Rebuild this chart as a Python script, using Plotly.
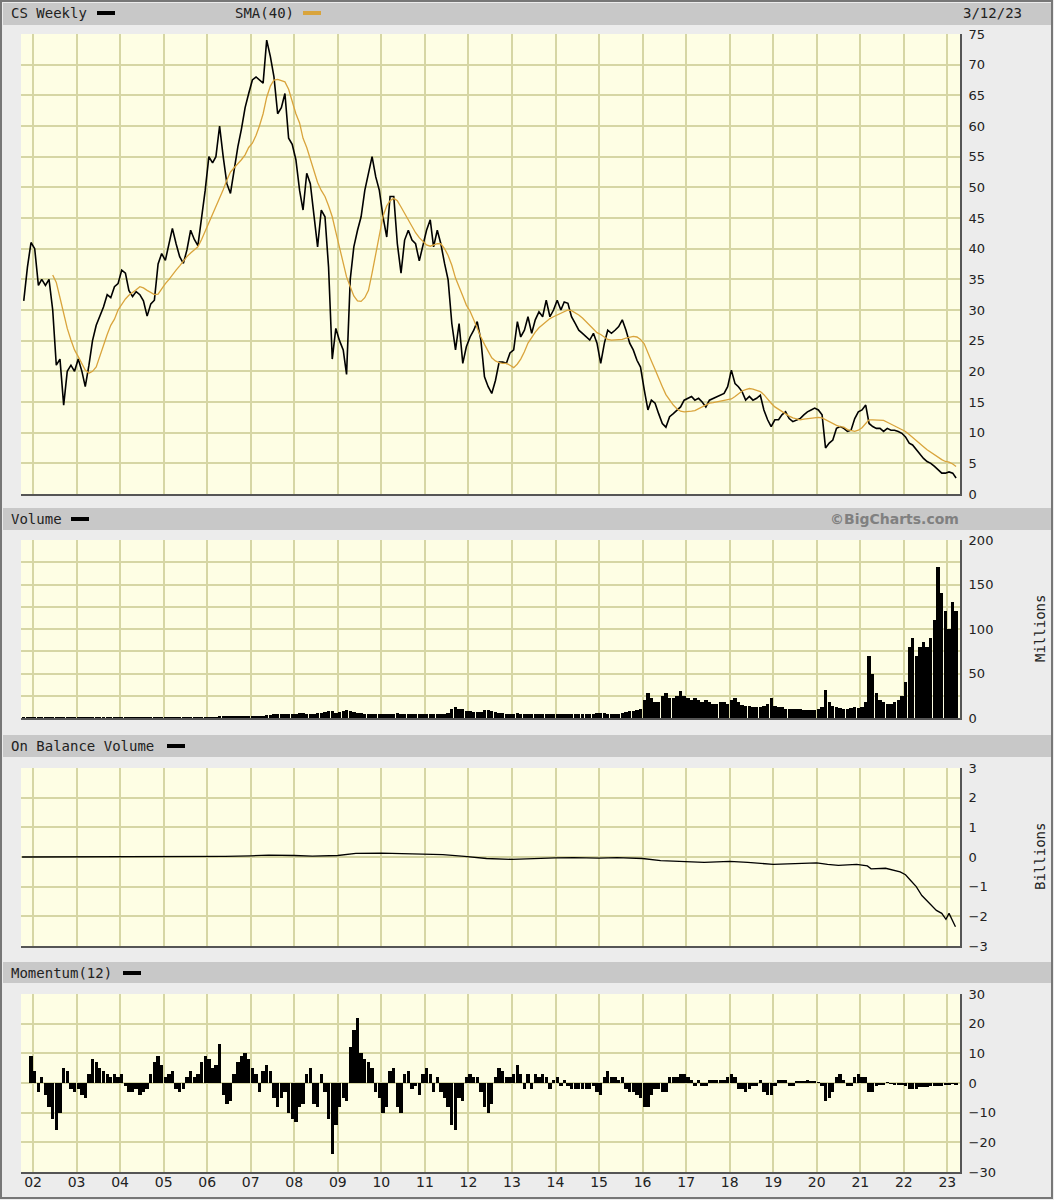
import plotly.graph_objects as go
import pandas as pd

W, H = 1054, 1200

# ---------------- data (monthly readings) ----------------
# CS weekly close, sampled monthly from Oct 2001
price = [
    31.5, 37, 41,
    40, 34, 35, 34, 35, 30, 21, 22, 14.5, 20, 21, 20,
    22, 20, 17.5, 21, 25, 27.5, 29, 30.5, 32.5, 32, 33.8, 34.3,
    36.5, 36, 33.2, 32.2, 33, 32.5, 31.5, 29, 31, 31.6, 37.5, 39.2,
    38.1, 40.8, 43.3, 40.8, 38.7, 37.6, 39.8, 43, 41.5, 40.5, 45, 49.5,
    55, 54, 55, 60, 55, 50.6, 49, 52.8, 56.6, 59.5, 63, 65.3,
    67.5, 68, 67.5, 67, 74, 71.3, 68, 62, 63, 65.3, 58, 57,
    54.5, 49.5, 46.3, 52.3, 50.6, 45, 40.3, 46.3, 45.2, 37, 22, 27,
    25, 23.5, 19.5, 35, 40.3, 43, 45.2, 49.5, 52.3, 55, 51.7, 49.5,
    45.2, 41.9, 48.5, 48.5, 40.8, 36, 41.4, 43, 41.4, 40.8, 38, 40.3,
    43, 44.7, 40.3, 43, 40.8, 37.6, 34.9, 27.8, 23.5, 27.8, 21.3, 24,
    25.6, 26.7, 28.1, 25.1, 19.1, 17.5, 16.4, 18.5, 21.5, 21.5, 21.3, 23,
    23.5, 28.1, 25.6, 26.7, 28.9, 26.2, 28.4, 29.7, 28.9, 31.6, 28.9, 30,
    31.6, 30, 31.3, 31.1, 28.9, 27.8, 26.7, 26.2, 25.6, 25.1, 26.2, 24.6,
    21.3, 24.6, 26.7, 26.2, 26.7, 27.3, 28.4, 26.7, 24.6, 23.5, 21.8, 20.7,
    17, 13.7, 15.3, 14.8, 13.1, 11.5, 10.9, 12.6, 13.1, 13.7, 14.2, 15.3,
    15.6, 15.9, 15.3, 15.6, 15, 14.2, 15.3, 15.6, 15.9, 16.1, 16.4, 17.5,
    20.2, 18, 17.5, 16.7, 15.3, 15.9, 15.3, 15.6, 16.1, 13.7, 12.1, 11,
    12.1, 12.1, 12.9, 13.4, 12.3, 11.8, 12.1, 12.3, 12.9, 13.4, 13.7, 14,
    13.7, 12.9, 7.5, 8.3, 8.8, 10.7, 11, 10.7, 10.2, 10.4, 12.3, 13.4,
    13.7, 14.5, 11.5, 11, 10.7, 10.7, 10.2, 10.7, 10.4, 10.4, 10.2, 9.9,
    9.3, 8.3, 8, 7.2, 6.4, 5.8, 5.3, 5, 4.5, 3.9, 3.4, 3.4,
    3.6, 3.4, 2.6,
]

# SMA(40), sampled monthly from Jun 2002
sma40 = [
    35.7, 34.5, 32, 29.5, 27, 25.1, 23.5,
    22.4, 21.2, 20.2, 19.7, 20, 20.7, 22.5, 24.5, 26, 27.5, 28.5, 30,
    31, 31.8, 32.4, 32.8, 33.3, 33.8, 33.6, 33.2, 32.8, 32.5, 32.6, 33.5,
    34.3, 35, 35.8, 36.5, 37.2, 38, 38.7, 39.3, 39.8, 40.3, 41.5, 42.8,
    44.2, 45.5, 46.8, 48, 49.6, 51.2, 52.5, 53.2, 53.8, 54.5, 55.3, 56.5,
    57.2, 58.5, 60, 62, 64.7, 66.5, 67.5, 67.6, 67.4, 67.2, 66, 63.8,
    62, 60.5, 58, 56.5, 54.5, 52.5, 50.8, 49.5, 48.5, 47, 45.2, 42.7,
    40.3, 37.5, 35.4, 33.8, 32.3, 31.5, 31.4, 32, 33.2, 36, 39, 42.3,
    45.3, 47, 47.8, 48.2, 47.8, 46.8, 45.8, 44.6, 43.5, 42.6, 41.8, 41.2,
    40.6, 40.4, 40.6, 40.8, 40.8, 40, 38.9, 37.3, 35.2, 33.6, 32.3, 30.8,
    29.8, 28.4, 27, 25.6, 24.4, 23.2, 22.2, 21.7, 21.4, 21.3, 21.3, 21,
    20.6, 21.2, 22, 23.2, 24.6, 25.5, 26.4, 27.1, 27.6, 28.2, 28.6, 28.9,
    29.2, 29.5, 29.8, 30, 29.9, 29.6, 29.2, 28.7, 28.1, 27.5, 26.8, 26.3,
    26, 25.5, 25.2, 25.1, 25.1, 25.1, 25.2, 25.4, 25.6, 25.7, 25.6, 25.2,
    24.5, 23.2, 21.7, 20.3, 18.8, 17.5, 16.2, 15.3, 14.5, 13.9, 13.5, 13.4,
    13.4, 13.5, 13.6, 13.9, 14.2, 14.5, 14.8, 14.9, 15, 15.1, 15.2, 15.3,
    15.5, 15.9, 16.4, 16.8, 17, 17.2, 17.1, 16.9, 16.7, 16.2, 15.4, 14.8,
    14.2, 13.8, 13.4, 13, 12.7, 12.4, 12.2, 12.1, 12.2, 12.3, 12.4, 12.5,
    12.5, 12.4, 12.1, 11.8, 11.4, 11.2, 11, 10.9, 10.5, 10.3, 10.2, 10.4,
    10.8, 11.5, 12.1, 12.1, 12.1, 12.1, 12, 11.7, 11.4, 11.2, 10.9, 10.6,
    10.2, 9.7, 9.2, 8.8, 8.2, 7.7, 7.2, 6.8, 6.3, 5.9, 5.6, 5.3,
    5.2, 4.9, 4.5,
]

# Volume (millions), monthly from Oct 2001
volume = [
    0.3, 0.3, 0.3,
    0.4, 0.4, 0.4, 0.4, 0.4, 0.5, 0.6, 0.5, 0.6, 0.6, 0.5, 0.5,
    0.5, 0.5, 0.6, 0.5, 0.5, 0.5, 0.5, 0.5, 0.5, 0.5, 0.5, 0.5,
    0.5, 0.5, 0.5, 0.5, 0.5, 0.5, 0.5, 0.5, 0.5, 0.5, 0.5, 0.5,
    0.6, 0.6, 0.6, 0.6, 0.6, 0.6, 0.6, 0.7, 0.7, 0.7, 0.8, 0.8,
    1.0, 1.0, 1.1, 1.2, 1.3, 1.3, 1.3, 1.4, 1.4, 1.5, 1.5, 1.5,
    2, 2, 2.5, 2.5, 3, 3, 4, 5, 4, 4, 5, 5,
    5, 6, 6, 5, 5, 5, 6, 6, 7, 8, 8, 6,
    7, 8, 9, 8, 7, 6, 6, 5, 5, 5, 5, 4,
    4, 4, 4, 5, 6, 5, 4, 4, 4, 4, 4, 4,
    4, 4, 5, 4, 4, 5, 6, 10, 12, 10, 10, 8,
    8, 7, 7, 7, 9, 9, 8, 7, 6, 6, 5, 5,
    5, 6, 5, 5, 5, 5, 5, 4, 4, 4, 4, 4,
    4, 4, 4, 4, 4, 4, 4, 4, 5, 5, 5, 6,
    6, 6, 5, 5, 5, 5, 6, 7, 8, 8, 9, 10,
    20, 28, 22, 18, 18, 25, 28, 22, 22, 25, 30, 25,
    22, 20, 22, 20, 18, 20, 18, 16, 16, 18, 18, 16,
    20, 22, 18, 15, 14, 14, 12, 12, 12, 14, 16, 22,
    14, 12, 12, 10, 10, 10, 10, 10, 9, 9, 9, 9,
    10, 12, 32, 18, 14, 12, 11, 10, 10, 11, 12, 11,
    12, 18, 70, 50, 28, 20, 18, 16, 16, 18, 20, 25,
    40, 80, 90, 70, 80, 85, 80, 90, 110, 170, 140, 120,
    100, 130, 120,
]

# On Balance Volume (billions)
obv_dates = [
    "2001-10-01", "2003-01-01", "2005-01-01", "2006-06-01", "2007-01-01",
    "2007-06-01", "2008-01-01", "2008-06-01", "2009-01-01", "2009-06-01",
    "2010-01-01", "2010-06-01", "2011-01-01", "2011-06-01", "2011-12-01",
    "2012-06-01", "2013-01-01", "2013-06-01", "2014-01-01", "2014-06-01",
    "2015-01-01", "2015-06-01", "2016-01-01", "2016-06-01", "2017-01-01",
    "2017-06-01", "2018-01-01", "2018-06-01", "2019-01-01", "2019-06-01",
    "2020-01-01", "2020-04-01", "2020-07-01", "2020-12-01", "2021-03-01",
    "2021-04-01", "2021-08-01", "2021-12-01", "2022-01-15", "2022-03-01",
    "2022-04-15", "2022-06-01", "2022-08-01", "2022-10-01", "2022-11-15",
    "2022-12-20", "2023-01-15", "2023-02-10", "2023-03-10",
]
obv_values = [
    0, 0, 0.01, 0.02, 0.04,
    0.06, 0.05, 0.03, 0.05, 0.12,
    0.13, 0.12, 0.1, 0.08, 0.02,
    -0.05, -0.08, -0.05, -0.03, -0.02,
    -0.04, -0.02, -0.05, -0.12, -0.15,
    -0.18, -0.15, -0.18, -0.25, -0.22,
    -0.2, -0.25, -0.28, -0.25, -0.3,
    -0.4, -0.38, -0.5, -0.6, -0.8,
    -1.0, -1.3, -1.55, -1.8, -1.9,
    -2.1, -1.9, -2.1, -2.35,
]

# Momentum(12), monthly from Dec 2001
momentum = [
    9,
    4, -3, 2, -4, -8, -12, -16, -10, 5, 4, -2, -3,
    -2, -4, -5, 3, 8, 7, 5, 4, 3, 2, 3, 2,
    3, -1, -3, -3, -2, -4, -3, -2, 3, 7, 9, 6,
    2, 3, 4, -2, -3, -2, 2, 4, 2, 3, 7, 9,
    8, 5, 6, 13, -4, -7, -6, 3, 7, 9, 10, 8,
    5, 3, -3, 4, 6, 4, -5, -8, -5, -3, -10, -12,
    -13, -8, -7, 3, 5, -7, -8, 3, -3, -12, -24, -14,
    -8, -5, -6, 12, 18, 22, 10, 8, 7, 5, -3, -5,
    -10, -8, 4, 5, -8, -10, 3, 4, -2, -1, -4, 3,
    5, 3, -3, 2, -3, -5, -8, -14, -16, -5, -6, 2,
    3, 2, 2, -3, -8, -10, -7, 2, 5, 4, 2, 2,
    3, 6, 3, -2, 3, -2, 3, 2, 3, 2, -2, 1,
    2, -1, 1, -1, -2, -2, -2, -2, -2, -2, -1, -3,
    -4, 2, 4, 2, 2, 1, 2, -2, -3, -3, -4, -5,
    -8, -8, -4, -2, -2, -3, -3, 2, 2, 2, 3, 3,
    2, 1, -1, 1, -1, -1, 1, 1, 1, 1, 1, 2,
    3, 2, -2, -2, -3, -2, -1, -1, 1, -3, -4, -4,
    -1, 1, 1, 1, -1, -1, 0.5, 0.5, 0.8, 1, 0.5, 0.5,
    0.3, -1, -6, -5, -3, 2, 3, 1, -1, -1, 2, 3,
    2, 2, -3, -3, -1, -0.5, -0.5, 0.3, -0.3, -0.5, -0.5, -0.5,
    -1, -2, -2, -2, -1.5, -1.5, -1.2, -1, -1, -1, -1, -0.5,
    -0.5, -0.3, -0.8,
]

year_labels = ["02", "03", "04", "05", "06", "07", "08", "09", "10", "11", "12",
               "13", "14", "15", "16", "17", "18", "19", "20", "21", "22", "23"]


def months(start, n):
    return pd.date_range(start, periods=n, freq="MS") + pd.Timedelta(days=14)


price_dates = months("2001-10-01", len(price))
sma_dates = months("2002-06-01", len(sma40))
vol_dates = months("2001-10-01", len(volume))
mom_dates = months("2001-12-01", len(momentum))
year_ticks = [f"20{y}-01-01" for y in year_labels]

# ---------------- styling ----------------
BG = "#ececec"
BAR = "#c8c8c8"
PLOT_BG = "#fefee4"
GRID = "#d6d6a4"
SMA_COL = "#d9a43c"
MONO = "DejaVu Sans Mono"
SANS = "DejaVu Sans"


def px(x):
    return x / W


def py(y):
    return 1 - y / H


X0, X1 = 21, 960
panels = {  # top, bottom in pixels
    "y": (34, 494),
    "y2": (540, 718),
    "y3": (768, 946),
    "y4": (994, 1172),
}
xdom = [px(X0), px(X1)]
xrange_ = ["2001-09-22", "2023-04-17"]

fig = go.Figure()
fig.add_trace(go.Scatter(x=price_dates, y=price, mode="lines",
                         line=dict(color="black", width=1.6), xaxis="x", yaxis="y"))
fig.add_trace(go.Scatter(x=sma_dates, y=sma40, mode="lines",
                         line=dict(color=SMA_COL, width=1.3), xaxis="x", yaxis="y"))
fig.add_trace(go.Bar(x=vol_dates, y=volume, marker=dict(color="black", line=dict(width=0)),
                     xaxis="x2", yaxis="y2"))
fig.add_trace(go.Scatter(x=obv_dates, y=obv_values, mode="lines",
                         line=dict(color="black", width=1.3), xaxis="x3", yaxis="y3"))
fig.add_trace(go.Bar(x=mom_dates, y=momentum, marker=dict(color="black", line=dict(width=0)),
                     xaxis="x4", yaxis="y4"))

tickfont = dict(family=SANS, size=13, color="#222")


def xaxis(anchor, labels=False):
    d = dict(domain=xdom, range=xrange_, type="date", anchor=anchor,
             tickmode="array", tickvals=year_ticks, ticktext=year_labels,
             showgrid=True, gridcolor=GRID, gridwidth=2, zeroline=False,
             showline=False, showticklabels=labels, ticks="", automargin=False,
             tickfont=dict(family=SANS, size=14, color="#222"))
    return d


def yaxis(key, rng, dtick, anchor, minor=None):
    top, bot = panels[key]
    d = dict(domain=[py(bot), py(top)], range=rng, dtick=dtick, side="right",
             anchor=anchor, showgrid=True, gridcolor=GRID, gridwidth=2, automargin=False,
             zeroline=False, showline=False, ticks="outside", ticklen=5,
             tickcolor="rgba(0,0,0,0)", tickfont=tickfont)
    if minor:
        d["minor"] = dict(dtick=minor, showgrid=True, gridcolor=GRID, gridwidth=2)
    return d


layout = dict(
    width=W, height=H, margin=dict(l=0, r=0, t=0, b=0, pad=0, autoexpand=False),
    paper_bgcolor=BG, plot_bgcolor=PLOT_BG, showlegend=False, bargap=0,
    xaxis=xaxis("y"), xaxis2=xaxis("y2"), xaxis3=xaxis("y3"), xaxis4=xaxis("y4", True),
    yaxis=yaxis("y", [0, 75], 5, "x"),
    yaxis2=yaxis("y2", [0, 200], 50, "x2", minor=25),
    yaxis3=yaxis("y3", [-3, 3], 1, "x3"),
    yaxis4=yaxis("y4", [-30, 30], 10, "x4"),
)
fig.update_layout(**layout)
fig.update_xaxes(matches="x")

shapes = []
# header bars
for top, bot in [(3, 25), (508, 530), (735, 757), (962, 983)]:
    shapes.append(dict(type="rect", xref="paper", yref="paper", x0=px(3), x1=px(1051),
                       y0=py(bot), y1=py(top), fillcolor=BAR, line=dict(width=0), layer="below"))
# plot-area shadows
for key, (top, bot) in panels.items():
    shapes.append(dict(type="line", xref="paper", yref="paper", x0=px(X1 + 1), x1=px(X1 + 1),
                       y0=py(bot + 2), y1=py(top), line=dict(color="#555", width=2)))
    shapes.append(dict(type="line", xref="paper", yref="paper", x0=px(X0), x1=px(X1 + 2),
                       y0=py(bot + 1), y1=py(bot + 1), line=dict(color="#555", width=2)))
# legend swatches
for x0, x1, yc, col in [(97, 115, 13, "black"), (303, 321, 13, SMA_COL), (71, 89, 519, "black"),
                        (167, 185, 746, "black"), (123, 141, 973, "black")]:
    shapes.append(dict(type="rect", xref="paper", yref="paper", x0=px(x0), x1=px(x1),
                       y0=py(yc + 2), y1=py(yc - 2), fillcolor=col, line=dict(width=0)))
# outer frame
shapes.append(dict(type="rect", xref="paper", yref="paper", x0=px(1), x1=px(1052),
                   y0=py(1198), y1=py(1), line=dict(color="#777", width=2)))
fig.update_layout(shapes=shapes)

hdr = dict(family=MONO, size=14, color="#222")


def ann(text, x, y, xanchor="left", font=hdr, angle=0):
    return dict(text=text, x=px(x), y=py(y), xref="paper", yref="paper", xanchor=xanchor,
                yanchor="middle", showarrow=False, font=font, textangle=angle)


annotations = [
    ann("CS Weekly", 9, 13),
    ann("SMA(40)", 233, 13),
    ann("3/12/23", 1024, 13, "right"),
    ann("Volume", 9, 519),
    ann("©BigCharts.com", 961, 519, "right", dict(family="DejaVu Sans", size=14, color="#808080", weight="bold")),
    ann("On Balance Volume", 9, 746),
    ann("Momentum(12)", 9, 973),
    ann("Millions", 1040, 629, "center", dict(family=MONO, size=14, color="#222"), -90),
    ann("Billions", 1040, 857, "center", dict(family=MONO, size=14, color="#222"), -90),
]
fig.update_layout(annotations=annotations)

fig.write_html("out.html", config={"displayModeBar": False},
               post_script="document.body.style.margin='0';document.body.style.overflow='hidden';")
